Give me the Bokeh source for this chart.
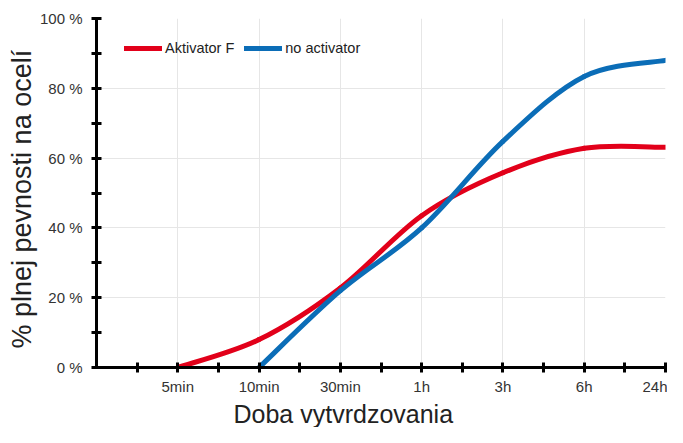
from bokeh.plotting import figure
from bokeh.models import ColumnDataSource, FixedTicker, Legend, LegendItem, Title
from bokeh.embed import file_html
from bokeh.resources import INLINE

# ---- data ----
categories = ["5min", "10min", "30min", "1h", "3h", "6h", "24h"]
cat_pos = [1, 2, 3, 4, 5, 6, 7]
y_ticks = [0, 20, 40, 60, 80, 100]
y_labels = ["0 %", "20 %", "40 %", "60 %", "80 %", "100 %"]

red_x = [1, 2, 3, 4, 5, 6, 7]
red_y = [0, 8, 22.8, 43.5, 55.8, 62.8, 63.1]
blue_x = [2, 3, 4, 5, 6, 7]
blue_y = [0, 22, 40, 64.8, 83.4, 88]

RED = "#E2001A"
BLUE = "#0B6DB7"
FONT = "Liberation Sans"


def smooth_segments(xs, ys):
    """Catmull-Rom curve through the data points, drawn as Bezier segments."""
    n = len(xs)
    d = dict(x0=[], y0=[], x1=[], y1=[], cx0=[], cy0=[], cx1=[], cy1=[])
    for i in range(n - 1):
        xm, ym = (xs[i - 1], ys[i - 1]) if i > 0 else (xs[i], ys[i])
        xp, yp = (xs[i + 2], ys[i + 2]) if i + 2 < n else (xs[i + 1], ys[i + 1])
        d["x0"].append(xs[i]); d["y0"].append(ys[i])
        d["x1"].append(xs[i + 1]); d["y1"].append(ys[i + 1])
        d["cx0"].append(xs[i] + (xs[i + 1] - xm) / 6)
        d["cy0"].append(ys[i] + (ys[i + 1] - ym) / 6)
        d["cx1"].append(xs[i + 1] - (xp - xs[i]) / 6)
        d["cy1"].append(ys[i + 1] - (yp - ys[i]) / 6)
    return ColumnDataSource(d)


p = figure(width=667, height=427, x_range=(0, 7), y_range=(0, 100),
           output_backend="svg", toolbar_location=None,
           min_border_left=96, min_border_right=2, min_border_top=18,
           min_border_bottom=54)
p.outline_line_color = None
p.background_fill_color = "white"

# grid
p.xgrid.ticker = FixedTicker(ticks=cat_pos)
p.ygrid.ticker = FixedTicker(ticks=y_ticks)
for g in (p.xgrid, p.ygrid):
    g.grid_line_color = "#e6e6e6"
    g.grid_line_width = 1

# axes
p.xaxis.ticker = FixedTicker(ticks=cat_pos, minor_ticks=[0.5, 1.5, 2.5, 3.5, 4.5, 5.5, 6.5])
p.xaxis.major_label_overrides = {pos: lab for pos, lab in zip(cat_pos, categories)}
p.yaxis.ticker = FixedTicker(ticks=y_ticks, minor_ticks=[10, 30, 50, 70, 90])
p.yaxis.major_label_overrides = {t: lab for t, lab in zip(y_ticks, y_labels)}

for ax in (p.xaxis, p.yaxis):
    ax.axis_line_color = "black"
    ax.axis_line_width = 3
    ax.major_tick_line_color = "black"
    ax.major_tick_line_width = 3
    ax.minor_tick_line_color = "black"
    ax.minor_tick_line_width = 3
    ax.major_tick_in = 5
    ax.major_tick_out = 5
    ax.minor_tick_in = 5
    ax.minor_tick_out = 5
    ax.major_label_text_font = FONT
    ax.major_label_text_font_size = "15px"
    ax.major_label_text_color = "#333333"

p.yaxis.major_label_standoff = 9
p.xaxis.major_label_standoff = 5

# axis titles, placed as side titles so they sit where the reference has them
xt = Title(text="Doba vytvrdzovania", align="left", offset=137, standoff=0,
           text_font=FONT, text_font_size="25px", text_font_style="normal",
           text_color="#222222")
p.add_layout(xt, "below")
yt = Title(text="% plnej pevnosti na ocelí", align="left", offset=19, standoff=0,
           text_font=FONT, text_font_size="27px", text_font_style="normal",
           text_color="#222222")
p.add_layout(yt, "left")

# curves
rs = smooth_segments(red_x, red_y)
bs = smooth_segments(blue_x, blue_y)
r_red = p.bezier(x0="x0", y0="y0", x1="x1", y1="y1", cx0="cx0", cy0="cy0",
                 cx1="cx1", cy1="cy1", source=rs, line_color=RED, line_width=5,
                 line_cap="round")
r_blue = p.bezier(x0="x0", y0="y0", x1="x1", y1="y1", cx0="cx0", cy0="cy0",
                  cx1="cx1", cy1="cy1", source=bs, line_color=BLUE, line_width=5,
                  line_cap="round")

legend = Legend(items=[LegendItem(label="Aktivator F", renderers=[r_red]),
                       LegendItem(label="no activator", renderers=[r_blue])],
                orientation="horizontal", location=(28, 309),
                background_fill_alpha=0, border_line_color=None,
                glyph_width=38, glyph_height=20, label_standoff=3, spacing=10,
                padding=0, margin=0, label_text_font=FONT,
                label_text_font_size="14.5px", label_text_color="#222222",
                label_height=20)
p.add_layout(legend, "center")

open("out.html", "w").write(file_html(p, INLINE))
